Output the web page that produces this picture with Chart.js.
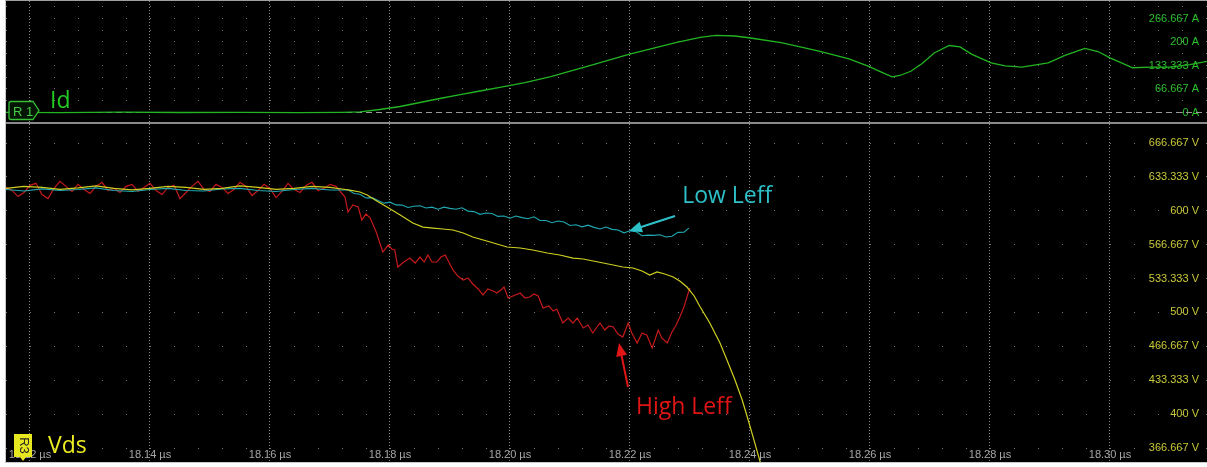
<!DOCTYPE html>
<html><head><meta charset="utf-8">
<script src="https://cdn.jsdelivr.net/npm/chart.js@4.4.1/dist/chart.umd.min.js"></script>
<style>
html,body{margin:0;padding:0;background:#fff;width:1207px;height:467px;overflow:hidden;}
#scope{position:absolute;left:5px;top:0;width:1202px;height:463px;background:#000;border-left:1px solid #c8c8c8;border-top:1px solid #a0a0a0;border-bottom:1px solid #c8c8c8;box-sizing:border-box;}
#cTop{position:absolute;left:6px;top:1px;}
#sep{position:absolute;left:6px;top:122px;width:1201px;height:1.5px;background:#8a8a8a;}
#cBot{position:absolute;left:6px;top:124px;}
#ov{position:absolute;left:0;top:0;pointer-events:none;}
</style></head>
<body>
<div id="scope"></div>
<canvas id="cTop" width="1201" height="121"></canvas>
<div id="sep"></div>
<canvas id="cBot" width="1201" height="338"></canvas>
<svg id="ov" width="1207" height="467" xmlns="http://www.w3.org/2000/svg">
  <path d="M11,101.5 H33 L39,110.5 L33,119.5 H11 Q9,119.5 9,117.5 V103.5 Q9,101.5 11,101.5 Z" fill="#051605" stroke="#35c035" stroke-width="1.3"/>
  <text x="13" y="115.5" font-family="Liberation Sans" font-size="13" fill="#45cc45">R 1</text>
  <text x="50" y="108" font-family="Open Sans" font-size="23" fill="#22cc22">Id</text>
  <path d="M14,434 H32 V457 H26 L23,461 L20,457 H14 Z" fill="#e8e820"/>
  <text transform="translate(23,445.5) rotate(90)" text-anchor="middle" dominant-baseline="middle" font-family="Liberation Sans" font-size="13" fill="#222">R3</text>
  <text x="48" y="453" font-family="Open Sans" font-size="23" fill="#eeee22">Vds</text>
</svg>
<script>
// ---------- axis ticks ----------
const xTickValues = [18.12,18.14,18.16,18.18,18.20,18.22,18.24,18.26,18.28,18.30];
const xTickLabels = ['18.12 µs','18.14 µs','18.16 µs','18.18 µs','18.20 µs','18.22 µs','18.24 µs','18.26 µs','18.28 µs','18.30 µs'];
const idTickValues = [0,33.333,66.667,100,133.333,166.667,200,233.333,266.667,300];
const idTickLabels = ['0 A','','66.667 A','','133.333 A','','200 A','','266.667 A',''];
const vdsTickValues = [366.667,400,433.333,466.667,500,533.333,566.667,600,633.333,666.667];
const vdsTickLabels = ['366.667 V','400 V','433.333 V','466.667 V','500 V','533.333 V','566.667 V','600 V','633.333 V','666.667 V'];

// ---------- Id (A) ----------
const idTime = [18.116,18.125,18.135,18.145,18.155,18.165,18.172,18.175,18.1783,18.1817,18.185,18.1883,18.1917,18.195,18.1983,18.2025,18.2068,18.2133,18.2198,18.2278,18.2317,18.2343,18.2375,18.2398,18.2452,18.2515,18.2565,18.2598,18.2617,18.2637,18.265,18.2668,18.2687,18.2707,18.2732,18.275,18.277,18.2802,18.2825,18.2853,18.2897,18.2925,18.2958,18.298,18.30,18.3038,18.3068,18.31,18.3133,18.3162];
const idVals = [0.5,-0.5,0.8,0,0.6,-0.3,0.5,1.5,8.5,17,28.4,39.7,51,61,71,85,102,133,165,199,213,219,217,212,198,174,152,131,116,101,105,117,139,169,190,186,165,141,132,128.5,141,162,182,173,155,127,128.5,129,136,145];
const refLevel = [0,0];

// ---------- Vds (V) ----------
const vdsTime = [18.116,18.119,18.122,18.125,18.128,18.131,18.134,18.137,18.140,18.143,18.146,18.149,18.152,18.155,18.158,18.161,18.164,18.167,18.170,18.172,18.1733,18.175,18.1762,18.1778,18.1795,18.1817,18.1838,18.1855,18.1872,18.1888,18.1905,18.1922,18.1938,18.1967,18.1995,18.2017,18.2038,18.2062,18.2083,18.2105,18.2122,18.2147,18.2172,18.2188,18.2205,18.222,18.2233,18.2245,18.2258,18.2272,18.2283,18.2295,18.2307,18.2317,18.2333,18.235,18.2363,18.2375,18.2387,18.2397,18.2407,18.2417,18.242];
const vdsVals = [622,624,623,621,622.5,624.5,622,620.5,622,624,623,621,622,624.5,623,621,622,624,623,621.4,620.4,618.5,615.5,609.6,603.7,595.8,588.0,584.0,583.0,582.1,581.1,578.1,574.2,569.3,564.4,563.4,561.4,558.5,556.5,553.5,552.6,549.6,546.7,544.7,543.7,540.8,536.8,539.8,537.8,534.9,530.9,525.0,516.2,505.4,489.6,470.0,451.3,433.6,413.9,394.2,373.6,352.9,345];

// ---------- Low Leff (V) ----------
const lowTime = [18.116,18.119,18.122,18.125,18.128,18.131,18.134,18.137,18.140,18.143,18.146,18.149,18.152,18.155,18.158,18.161,18.164,18.167,18.170,18.172,
18.173,18.174,18.175,18.176,18.177,18.178,18.179,18.180,18.181,18.182,18.183,18.184,18.185,18.186,18.187,18.188,18.189,18.190,18.191,18.192,18.193,18.194,18.195,18.196,18.197,18.198,18.199,18.200,18.201,18.202,18.203,18.204,18.205,18.206,18.207,18.208,18.209,18.210,18.211,18.212,18.213,18.214,18.215,18.216,18.217,18.218,18.219,18.220,18.221,18.222,18.223,18.224,18.225,18.226,18.227,18.228,18.229,18.2298];
const lowVals = [621,619.5,621.5,620,621,622.5,620,619,621,622,620,619.5,621.5,622,620,619,621,622,620.5,620.5,
620.7,617.0,616.2,612.6,612.9,610.0,607.5,608.5,605.8,605.6,603.2,604.4,604.9,602.8,603.6,601.6,603.6,602.4,601.5,602.9,599.7,599.2,596.5,597.8,597.4,594.5,594.8,592.7,594.8,593.3,592.2,594.1,590.4,590.4,588.2,590.0,588.9,585.5,586.2,584.2,585.9,583.7,582.1,584.0,581.7,581.1,578.3,580.4,579.5,575.4,576.1,575.8,576.4,574.2,575.0,578.8,579.0,583.0];

// ---------- High Leff (V) ----------
const highTime = [18.116,18.117,18.118,18.119,18.120,18.121,18.122,18.123,18.124,18.125,18.126,18.127,18.128,18.129,18.130,18.131,18.132,18.133,18.134,18.135,18.136,18.137,18.138,18.139,18.140,18.141,18.142,18.143,18.144,18.145,18.146,18.147,18.148,18.149,18.150,18.151,18.152,18.153,18.154,18.155,18.156,18.157,18.158,18.159,18.160,18.161,18.162,18.163,18.164,18.165,18.166,18.167,18.168,18.169,18.170,18.171,18.172,
18.1725,18.1730,18.1738,18.1747,18.1753,18.1760,18.1767,18.1777,18.1788,18.1797,18.1803,18.1808,18.1813,18.1823,18.1833,18.1842,18.1850,18.1857,18.1863,18.1870,18.1878,18.1885,18.1892,18.1898,18.1905,18.1913,18.1922,18.1930,18.1938,18.1947,18.1955,18.1963,18.1972,18.1978,18.1985,18.1990,18.1997,18.2005,18.2017,18.2025,18.2033,18.2040,18.2047,18.2055,18.2065,18.2072,18.2078,18.2088,18.2097,18.2105,18.2112,18.2122,18.2130,18.2138,18.2145,18.2150,18.2158,18.2165,18.2172,18.2180,18.2188,18.2197,18.2203,18.2212,18.2220,18.2228,18.2237,18.2247,18.2253,18.2262,18.2270,18.2277,18.2283,18.2290,18.2297,18.2300];
const highVals = [623,620,614,618,625,627,616,612,622,629,624,619,626,621,617,624,628,620,622,618,624,626,619,623,627,620,616,623,625,612,618,624,629,621,619,626,623,617,621,628,624,615,620,626,622,613,619,627,621,618,625,628,620,622,626,624,617,
613.5,598.8,605.7,603.7,590.9,596.8,592.9,579.1,559.4,566.3,562.4,561.4,544.7,549.6,553.5,548.6,554.5,549.6,556.5,549.6,549.6,554.5,556.5,549.6,541.8,535.8,531.9,533.9,528.0,523.1,517.2,523.1,521.1,519.1,522.1,525.0,514.2,516.2,519.1,514.2,515.2,518.1,516.2,504.4,506.3,501.4,503.4,489.6,494.5,489.6,494.5,484.7,487.6,479.8,485.7,489.6,482.7,486.7,485.7,478.8,475.8,489.6,479.8,469.9,479.8,477.8,465.0,482.7,474.9,469.9,480.8,487.6,495.5,505.3,519.1,524.0];

// ---------- callouts (data coordinates) ----------
const notes = [
  {text:'Low Leff', color:'#2ec0c8', tx:18.2287, ty:614.5, fromX:18.2275, fromY:594.9, toX:18.21983, toY:580.1},
  {text:'High Leff', color:'#e01515', tx:18.221, ty:407.0, fromX:18.21967, fromY:426.7, toX:18.21817, toY:469.9}
];

const xMin = 18.116, xMax = 18.31617;
const P = (ts, vs) => ts.map((t,i)=>({x:t, y:vs[i]}));
Chart.defaults.font.family = 'Liberation Sans';

const xGrid = {color:'rgba(170,170,170,0.8)', lineWidth:1, drawTicks:false};
const yGrid = {color:'#777777', lineWidth:1, drawTicks:false};

const common = {
  animation:false, responsive:false, maintainAspectRatio:false,
  layout:{padding:0},
  plugins:{legend:{display:false}, tooltip:{enabled:false}},
  elements:{point:{radius:0}, line:{tension:0}}
};

new Chart(document.getElementById('cTop'), {
  type:'line',
  data:{datasets:[
    {data:P(idTime,idVals), borderColor:'#22b422', borderWidth:1.3},
    {data:P([xMin,xMax],refLevel), borderColor:'#9a9a9a', borderWidth:1, borderDash:[6,4]}
  ]},
  options:Object.assign({}, common, {
    scales:{
      x:{type:'linear', min:xMin, max:xMax,
         afterBuildTicks:ax=>{ax.ticks = xTickValues.map(v=>({value:v}));},
         ticks:{display:false}, grid:xGrid, border:{display:false, dash:[1,2]}},
      y:{type:'linear', position:'right', min:-26.95, max:316.3,
         afterBuildTicks:ax=>{ax.ticks = idTickValues.map(v=>({value:v}));},
         ticks:{mirror:true, padding:-8, autoSkip:false, color:'#2fbf2f', font:{size:11, lineHeight:0.01}, callback:(v,i)=>idTickLabels[i]},
         grid:yGrid, border:{display:false, dash:[1,23]}}
    }
  })
});

const calloutPlugin = {
  id:'callouts',
  afterDatasetsDraw(chart){
    const ctx = chart.ctx, xs = chart.scales.x, ys = chart.scales.y;
    notes.forEach(n=>{
      const x1 = xs.getPixelForValue(n.fromX), y1 = ys.getPixelForValue(n.fromY);
      const x2 = xs.getPixelForValue(n.toX), y2 = ys.getPixelForValue(n.toY);
      const ang = Math.atan2(y2-y1, x2-x1), L = 13, W = 5.5;
      ctx.save();
      ctx.strokeStyle = n.color; ctx.fillStyle = n.color; ctx.lineWidth = 2;
      ctx.beginPath(); ctx.moveTo(x1,y1);
      ctx.lineTo(x2 - Math.cos(ang)*L*0.8, y2 - Math.sin(ang)*L*0.8); ctx.stroke();
      ctx.beginPath(); ctx.moveTo(x2,y2);
      ctx.lineTo(x2 - Math.cos(ang)*L - Math.sin(ang)*W, y2 - Math.sin(ang)*L + Math.cos(ang)*W);
      ctx.lineTo(x2 - Math.cos(ang)*L + Math.sin(ang)*W, y2 - Math.sin(ang)*L - Math.cos(ang)*W);
      ctx.closePath(); ctx.fill();
      ctx.font = '23px "Open Sans"'; ctx.textBaseline = 'middle'; ctx.textAlign = 'left';
      ctx.fillText(n.text, xs.getPixelForValue(n.tx), ys.getPixelForValue(n.ty));
      ctx.restore();
    });
  }
};

new Chart(document.getElementById('cBot'), {
  type:'line',
  data:{datasets:[
    {data:P(vdsTime,vdsVals), borderColor:'#cfcf22', borderWidth:1.2},
    {data:P(lowTime,lowVals), borderColor:'#1fa9b2', borderWidth:1.1},
    {data:P(highTime,highVals), borderColor:'#c41a1a', borderWidth:1.2}
  ]},
  options:Object.assign({}, common, {
    scales:{
      x:{type:'linear', position:'bottom', min:xMin, max:xMax,
         afterBuildTicks:ax=>{ax.ticks = xTickValues.map(v=>({value:v}));},
         ticks:{mirror:true, padding:0, autoSkip:false, maxRotation:0, color:'#a6a6a6', font:{size:11}, callback:(v,i)=>xTickLabels[i]},
         grid:xGrid, border:{display:false, dash:[1,2]}},
      y:{type:'linear', position:'right', min:352.9, max:685.36,
         afterBuildTicks:ax=>{ax.ticks = vdsTickValues.map(v=>({value:v}));},
         ticks:{mirror:true, padding:-8, autoSkip:false, color:'#c8c83a', font:{size:11, lineHeight:0.01}, callback:(v,i)=>vdsTickLabels[i]},
         grid:yGrid, border:{display:false, dash:[1,23]}}
    }
  }),
  plugins:[calloutPlugin]
});
</script>
</body></html>
